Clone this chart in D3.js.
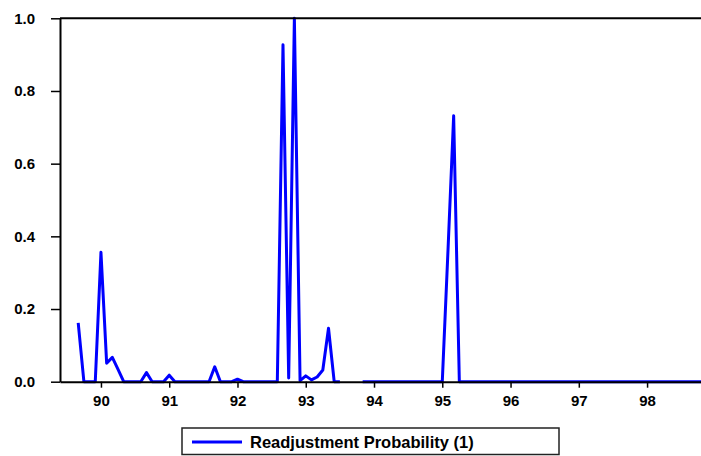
<!DOCTYPE html>
<html>
<head>
<meta charset="utf-8">
<script src="https://cdn.jsdelivr.net/npm/d3@7"></script>
<style>
  body { margin: 0; background: #fff; }
  svg { display: block; font-family: "Liberation Sans", Arial, sans-serif; }
</style>
</head>
<body>
<svg id="chart" width="701" height="456"></svg>
<script>
// monthly series, first observation 1989M9
var startYear = 1989, startMonth = 9;

var prob1989 = [0.162, 0, 0, 0];
var prob1990 = [0.356, 0.051, 0.067, 0.034, 0, 0, 0, 0, 0.025, 0, 0, 0];
var prob1991 = [0.018, 0, 0, 0, 0, 0, 0, 0, 0.041, 0, 0, 0];
var prob1992 = [0.007, 0, 0, 0, 0, 0, 0, 0, 0.927, 0.010, 1.000, 0.003];
var prob1993 = [0.016, 0.005, 0.013, 0.032, 0.147, 0, 0, null, null, null, 0, 0];
var prob1994 = [0, 0, 0, 0, 0, 0, 0, 0, 0, 0, 0, 0];
var prob1995 = [0, 0.36, 0.732, 0, 0, 0, 0, 0, 0, 0, 0, 0];
var prob1996 = [0, 0, 0, 0, 0, 0, 0, 0, 0, 0, 0, 0];
var prob1997 = [0, 0, 0, 0, 0, 0, 0, 0, 0, 0, 0, 0];
var prob1998 = [0, 0, 0, 0, 0, 0, 0, 0, 0, 0, 0, 0];

var xTicks = [90, 91, 92, 93, 94, 95, 96, 97, 98];
var yTicks = [0, 0.2, 0.4, 0.6, 0.8, 1.0];
var seriesName = "Readjustment Probability (1)";

var values = [].concat(prob1989, prob1990, prob1991, prob1992, prob1993,
    prob1994, prob1995, prob1996, prob1997, prob1998);

// EViews style position: yy + (month-1)/12
var data = values.map(function (v, i) {
    var m = startMonth - 1 + i;
    return { t: (startYear - 1900) + Math.floor(m / 12) + (m % 12) / 12, v: v };
});

var svg = d3.select("svg#chart"),
    plotLeft = 60, plotRight = 701, plotTop = 18.3, plotBottom = 381.7;

var x = d3.scaleLinear().domain([89.4, 98.79]).range([plotLeft, plotRight]);
var y = d3.scaleLinear().domain([0, 1]).range([plotBottom, plotTop]);

// line
var line = d3.line()
    .defined(function (d) { return d.v !== null; })
    .x(function (d) { return x(d.t); })
    .y(function (d) { return y(d.v); });

svg.append("path")
    .datum(data)
    .attr("fill", "none")
    .attr("stroke", "#0000ff")
    .attr("stroke-width", 3)
    .attr("stroke-linejoin", "round")
    .attr("d", line);

// frame (top, left, bottom)
svg.append("line")
    .attr("x1", plotLeft).attr("x2", plotRight + 2)
    .attr("y1", plotTop).attr("y2", plotTop)
    .attr("stroke", "#000").attr("stroke-width", 2);

var xAxis = svg.append("g")
    .attr("transform", "translate(0," + plotBottom + ")")
    .call(d3.axisBottom(x).tickValues(xTicks).tickSize(6).tickSizeOuter(0).tickPadding(8)
        .tickFormat(d3.format("d")));
xAxis.select(".domain").attr("stroke-width", 2);
xAxis.selectAll(".tick line").attr("stroke-width", 1.5);
xAxis.selectAll("text")
    .style("font", "bold 15px 'Liberation Sans', Arial, sans-serif")
    .attr("fill", "#000");

var yAxis = svg.append("g")
    .attr("transform", "translate(" + plotLeft + ",0)")
    .call(d3.axisLeft(y).tickValues(yTicks).tickSize(9).tickSizeOuter(0).tickPadding(16)
        .tickFormat(d3.format(".1f")));
yAxis.select(".domain").attr("stroke-width", 2);
yAxis.selectAll(".tick line").attr("stroke-width", 1.5);
yAxis.selectAll("text")
    .style("font", "bold 15px 'Liberation Sans', Arial, sans-serif")
    .attr("fill", "#000");

// legend
var legend = svg.append("g").attr("transform", "translate(182,428)");

legend.append("rect")
    .attr("width", 377)
    .attr("height", 26.5)
    .attr("fill", "#fff")
    .attr("stroke", "#222")
    .attr("stroke-width", 1.5);

legend.append("line")
    .attr("x1", 10).attr("x2", 60)
    .attr("y1", 14).attr("y2", 14)
    .attr("stroke", "#0000ff")
    .attr("stroke-width", 3);

legend.append("text")
    .attr("x", 68)
    .attr("y", 20.3)
    .style("font", "bold 16.5px 'Liberation Sans', Arial, sans-serif")
    .text(seriesName);
</script>
</body>
</html>
